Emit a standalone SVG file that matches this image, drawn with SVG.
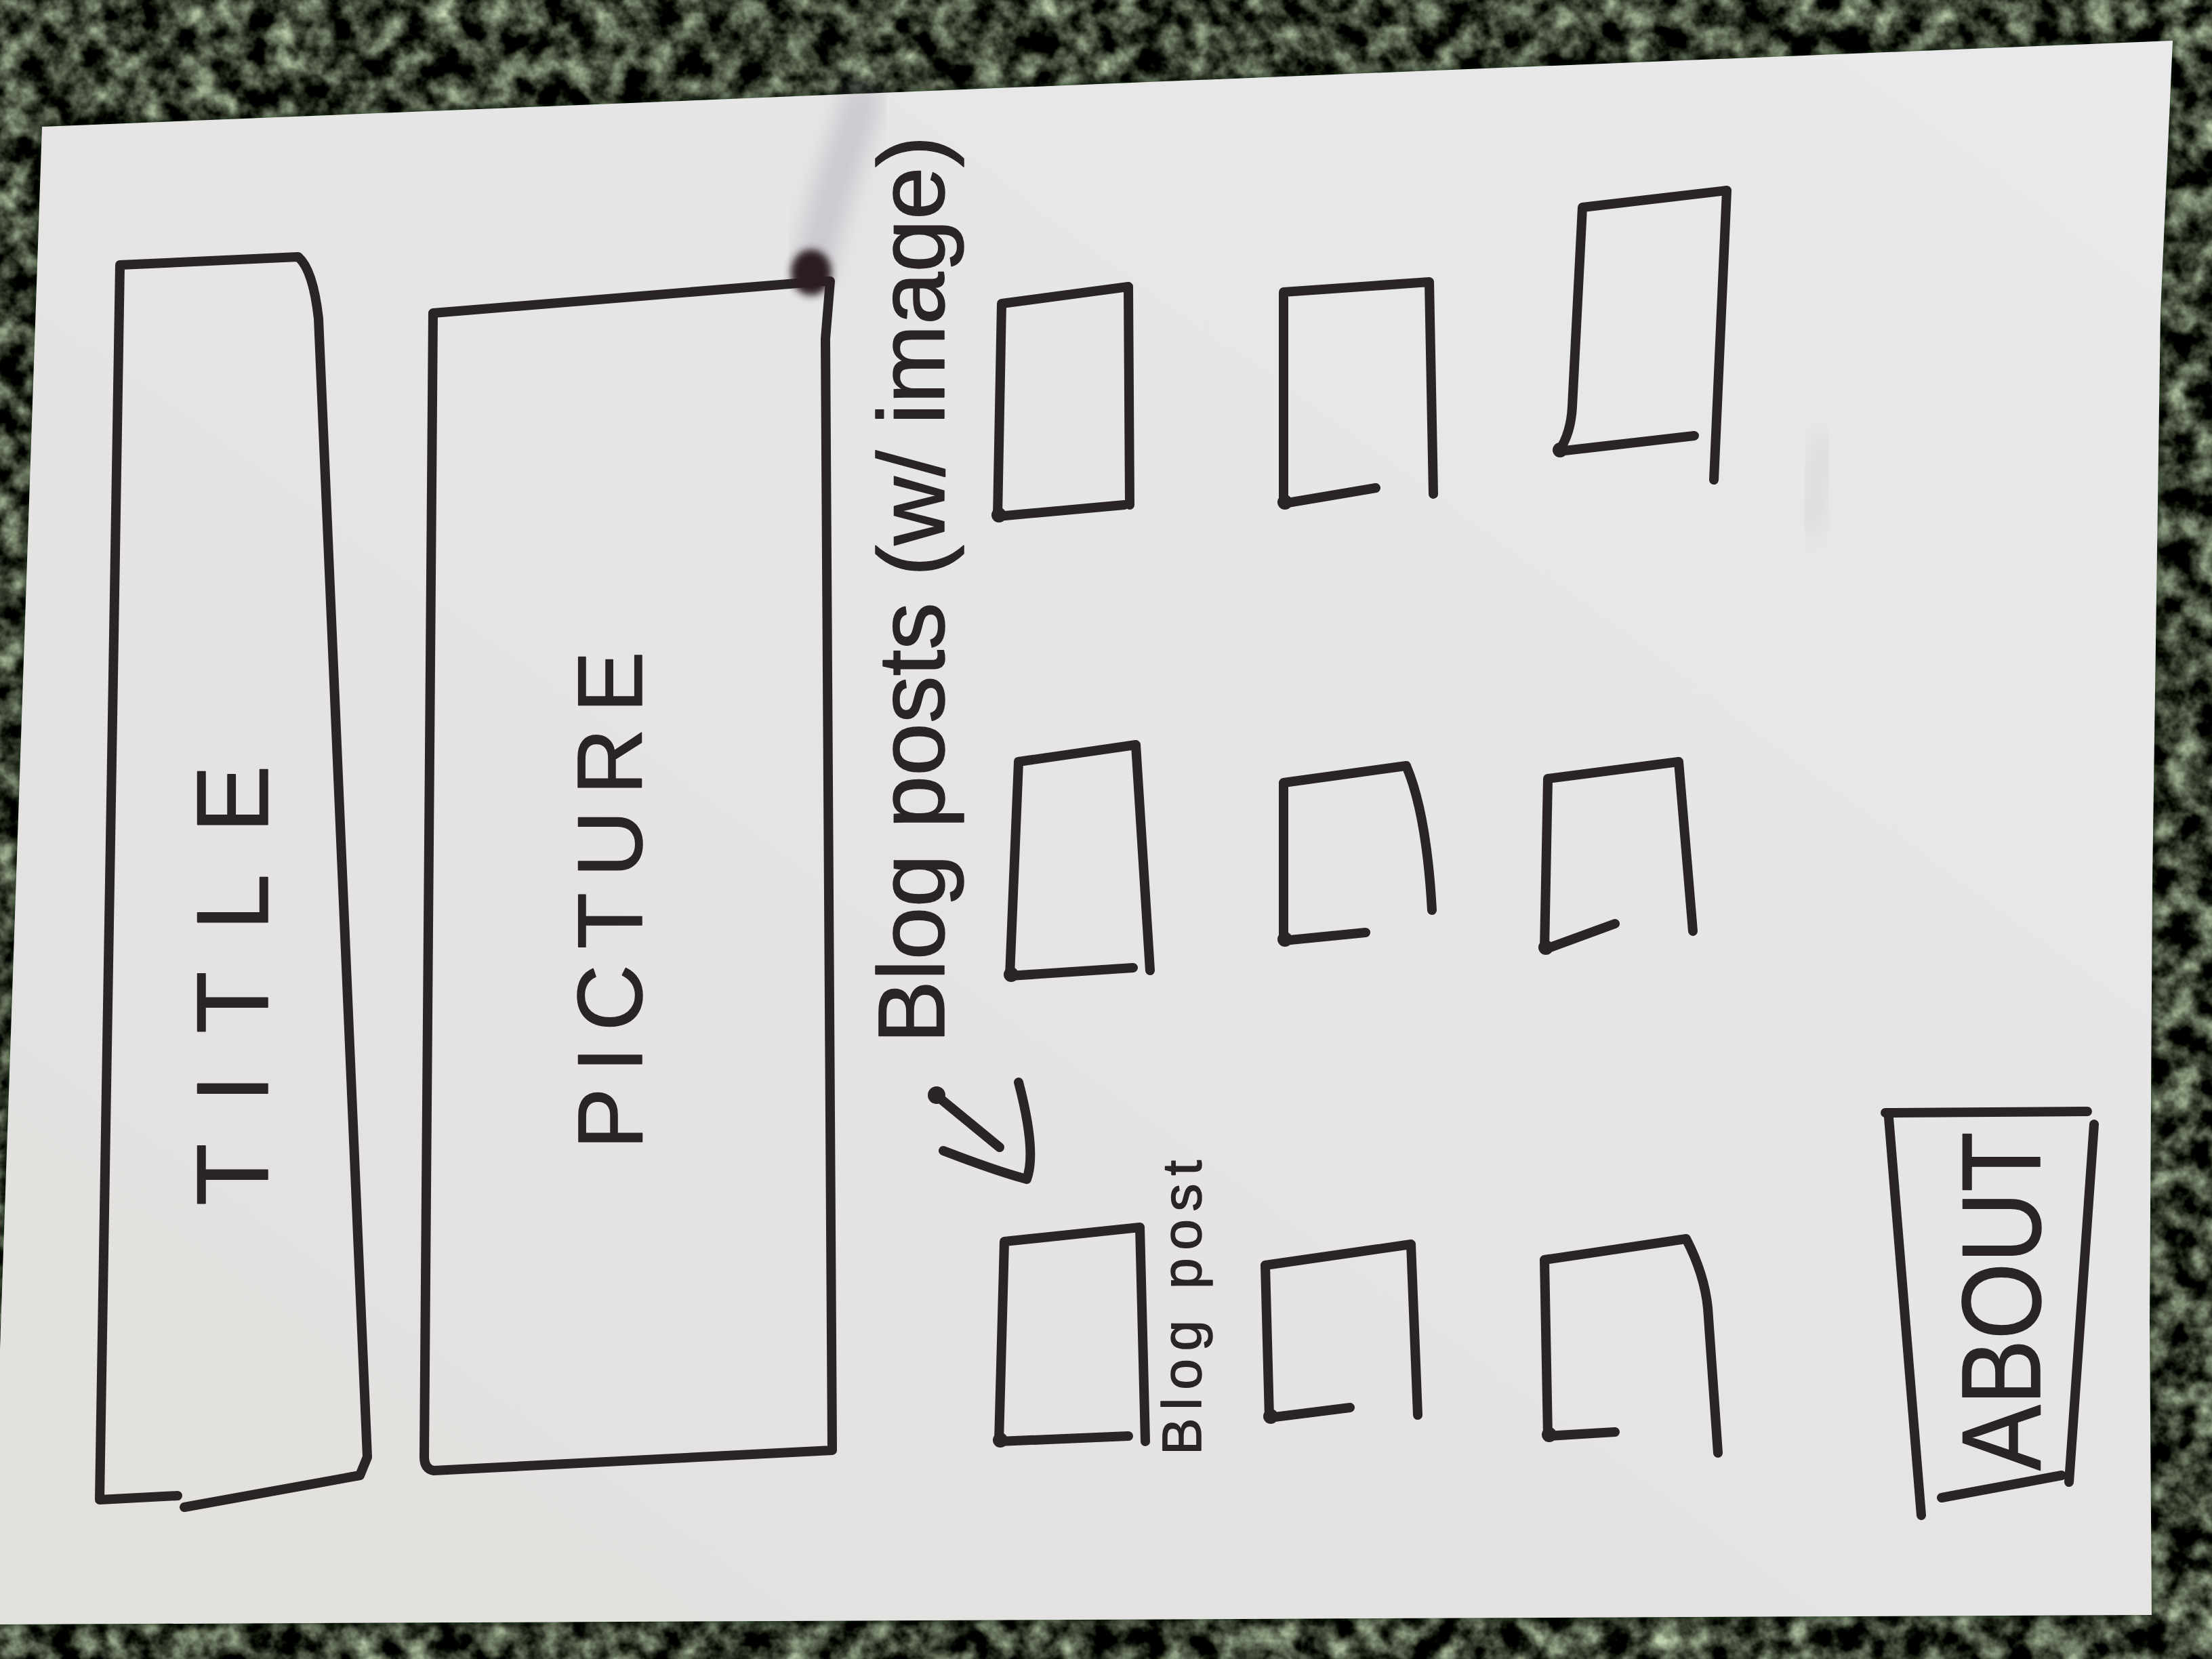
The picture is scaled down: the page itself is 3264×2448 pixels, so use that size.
<svg xmlns="http://www.w3.org/2000/svg" width="3264" height="2448" viewBox="0 0 3264 2448">
  <defs>
    <style>
      .ink { fill: none; stroke: #2a2424; stroke-width: 14; stroke-linecap: round; stroke-linejoin: round; }
      .dot { fill: #2a2424; }
      .hand { font-family: "Liberation Sans", "DejaVu Sans", sans-serif; fill: #2a2424; stroke: #2a2424; stroke-width: 1.5; stroke-linejoin: round; }
    </style>
    <!-- mottled dark green carpet under the sheet -->
    <filter id="carpet" x="0" y="0" width="100%" height="100%" filterUnits="userSpaceOnUse" color-interpolation-filters="sRGB">
      <feTurbulence type="fractalNoise" baseFrequency="0.025" numOctaves="4" seed="7" result="n"/>
      <feColorMatrix in="n" type="matrix" values="1.35 0 0 0 -0.455  1.45 0 0 0 -0.475  1.25 0 0 0 -0.435  0 0 0 0 1"/>
    </filter>
    <filter id="soft" x="-50%" y="-50%" width="200%" height="200%">
      <feGaussianBlur stdDeviation="16"/>
    </filter>
    <filter id="blotBlur" x="-50%" y="-50%" width="200%" height="200%">
      <feGaussianBlur stdDeviation="6"/>
    </filter>
    <linearGradient id="paperTone" x1="0" y1="1" x2="1" y2="0">
      <stop offset="0" stop-color="#e2e0dd"/>
      <stop offset="1" stop-color="#e9e9eb"/>
    </linearGradient>
  </defs>

  <!-- background -->
  <rect x="0" y="0" width="3264" height="2448" fill="#2f362d"/>
  <rect x="0" y="0" width="3264" height="2448" filter="url(#carpet)"/>

  <!-- sheet of paper with its shadow -->
  <polygon points="62,187 3206,60 3188,460 3176,1300 3172,1950 3175,2383 0,2397 0,1990" fill="#111511" opacity="0.8" filter="url(#blotBlur)"/>
  <polygon id="paper" points="62,187 3206,60 3188,460 3176,1300 3172,1950 3175,2383 0,2397 0,1990" fill="url(#paperTone)"/>

  <!-- ink smear running up from the picture box corner -->
  <path d="M1200,395 C1220,300 1250,220 1272,150" fill="none" stroke="#8c889a" stroke-width="60" stroke-linecap="round" opacity="0.3" filter="url(#soft)"/>
  <path d="M2690,650 L2672,780" fill="none" stroke="#9a96a8" stroke-width="20" stroke-linecap="round" opacity="0.25" filter="url(#soft)"/>

  <!-- TITLE -->
  <g id="title">
    <path class="ink" d="M147,2213 L177,391 L440,379 Q462,398 470,470 L542,2150 L531,2177 L272,2224 M262,2207 L147,2213"/>
    <text class="hand" transform="translate(395,1779) rotate(-90)" font-size="150" textLength="650" lengthAdjust="spacing">TITLE</text>
  </g>

  <!-- PICTURE -->
  <g id="picture">
    <path class="ink" d="M639,462 L1213,415 L1225,415 L1218,500 L1228,2140 L640,2170 Q626,2168 626,2150 L639,462"/>
    <ellipse cx="1197" cy="402" rx="30" ry="34" fill="#2a1d22" filter="url(#blotBlur)"/>
    <text class="hand" transform="translate(947,1696) rotate(-90)" font-size="136" textLength="735" lengthAdjust="spacing">PICTURE</text>
  </g>

  <!-- section label -->
  <g id="blog-posts-label">
    <text class="hand" transform="translate(1393,1540) rotate(-90)" font-size="140" textLength="1340" lengthAdjust="spacing">Blog posts (w/ image)</text>
  </g>

  <!-- grid of blog post cards -->
  <g id="post-a1">
    <path class="ink" d="M1472,762 L1478,448 L1665,423 L1667,745 M1472,762 L1659,745"/>
    <circle class="dot" cx="1474" cy="760" r="11"/>
  </g>
  <g id="post-a2">
    <path class="ink" d="M1894,743 L1894,431 L2109,416 L2115,729 M1894,743 L2030,720"/>
    <circle class="dot" cx="1896" cy="741" r="11"/>
  </g>
  <g id="post-a3">
    <path class="ink" d="M2300,666 Q2318,640 2320,600 L2335,306 L2548,281 L2529,708 M2300,666 L2500,643"/>
    <circle class="dot" cx="2302" cy="664" r="11"/>
  </g>
  <g id="post-b1">
    <path class="ink" d="M1490,1440 L1503,1124 L1676,1099 L1697,1432 M1490,1440 L1672,1428"/>
    <circle class="dot" cx="1492" cy="1438" r="11"/>
  </g>
  <g id="post-b2">
    <path class="ink" d="M1894,1388 L1894,1155 L2075,1130 Q2105,1200 2113,1343 M1894,1388 L2015,1376"/>
    <circle class="dot" cx="1896" cy="1386" r="11"/>
  </g>
  <g id="post-b3">
    <path class="ink" d="M2279,1401 L2284,1149 L2477,1124 L2498,1374 M2279,1401 L2383,1363"/>
    <circle class="dot" cx="2281" cy="1398" r="11"/>
  </g>
  <g id="post-c1">
    <path class="ink" d="M1474,2127 L1482,1832 L1682,1811 L1690,2127 M1474,2127 L1665,2119"/>
    <circle class="dot" cx="1476" cy="2125" r="11"/>
    <text class="hand" transform="translate(1772,2147) rotate(-90)" font-size="82" textLength="435" lengthAdjust="spacing" stroke-width="2">Blog post</text>
  </g>
  <g id="post-c2">
    <path class="ink" d="M1873,2092 L1867,1867 L2082,1836 L2092,2088 M1873,2092 L1992,2077"/>
    <circle class="dot" cx="1875" cy="2090" r="11"/>
  </g>
  <g id="post-c3">
    <path class="ink" d="M2284,2119 L2279,1859 L2488,1828 Q2515,1880 2520,1930 L2535,2144 M2284,2119 L2383,2113"/>
    <circle class="dot" cx="2286" cy="2117" r="11"/>
  </g>

  <!-- ABOUT -->
  <g id="about">
    <path class="ink" d="M2835,2236 L2787,1649 M2782,1642 L3080,1640 M3090,1659 L3053,2187 M2865,2210 L3042,2177"/>
    <text class="hand" transform="translate(3010,2170) rotate(-90)" font-size="165" textLength="500" lengthAdjust="spacingAndGlyphs">ABOUT</text>
  </g>

  <!-- hand-drawn arrow -->
  <g id="connectors">
    <path class="ink" d="M1380,1615 L1475,1693"/>
    <circle class="dot" cx="1382" cy="1616" r="13"/>
    <path class="ink" d="M1392,1698 Q1470,1728 1515,1740 Q1530,1700 1503,1597"/>
  </g>
</svg>
